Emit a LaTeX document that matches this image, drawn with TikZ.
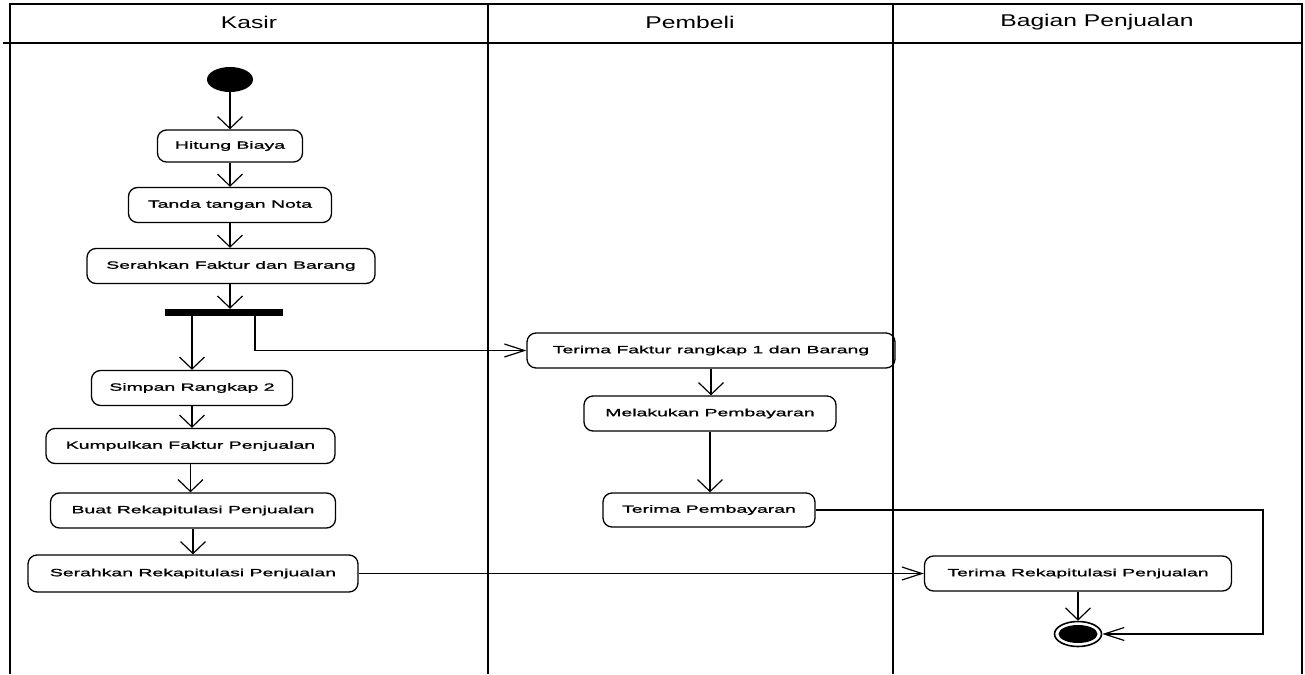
\documentclass[tikz,border=0pt]{standalone}
\usepackage{fontspec}
\setmainfont{Liberation Sans}
% wide faces for lane titles and activity labels
\newfontfamily\lanefont[FakeStretch=1.45]{Liberation Sans}
\newfontfamily\actfont[FakeStretch=1.85,FakeBold=1.2]{Liberation Sans}
\usetikzlibrary{arrows.meta,shapes.geometric}

\begin{document}
\begin{tikzpicture}[x=1pt,y=-1pt,
  frame/.style={line width=1.5pt},
  act/.style={draw, line width=1.3pt, rounded corners=9pt, minimum height=35pt,
    inner sep=0pt, font=\actfont\fontsize{10.5}{12}\selectfont},
  lane/.style={font=\lanefont\fontsize{17}{19}\selectfont},
  flowv/.style={line width=1.6pt, -{Straight Barb[length=12pt,width=25pt,line width=1.2pt]}},
  flowh/.style={line width=1.2pt, -{Straight Barb[length=20pt,width=13pt,line width=1.2pt]}},
]
\useasboundingbox (0,0) rectangle (1305,674);

% swimlane frame
\draw[frame] (10,674) -- (10,4) -- (1302,4) -- (1302,674);
\draw[frame] (3,43) -- (1302,43);
\draw[frame] (488,4) -- (488,674);
\draw[frame] (893,4) -- (893,674);

% lane titles
\node[lane] (hKasir) at (249,22) {Kasir};
\node[lane] (hPembeli) at (690,22) {Pembeli};
\node[lane] (hBagian) at (1097,22) {Bagian Penjualan};

% Kasir lane
\node[ellipse, fill=black, minimum width=46pt, minimum height=25pt, inner sep=0pt] (start) at (230,79.5) {};
\node[act, minimum width=145pt, minimum height=32pt] (hitung) at (230,146) {Hitung Biaya};
\node[act, minimum width=203pt] (tanda) at (230,205) {Tanda tangan Nota};
\node[act, minimum width=288pt] (serahF) at (231,266) {Serahkan Faktur dan Barang};
\node[fill=black, minimum width=118pt, minimum height=7pt, inner sep=0pt] (fork) at (224,312.5) {};
\node[act, minimum width=201pt] (simpan) at (192,388) {Simpan Rangkap 2};
\node[act, minimum width=289pt] (kumpul) at (190.5,446) {Kumpulkan Faktur Penjualan};
\node[act, minimum width=285pt] (buat) at (193,510.5) {Buat Rekapitulasi Penjualan};
\node[act, minimum width=330pt, minimum height=37pt] (serahR) at (193,573.5) {Serahkan Rekapitulasi Penjualan};

% Pembeli lane
\node[act, minimum width=368pt] (terimaF) at (711,350.5) {Terima Faktur rangkap 1 dan Barang};
\node[act, minimum width=252pt] (bayar) at (710,413.5) {Melakukan Pembayaran};
\node[act, minimum width=212pt, minimum height=34pt] (terimaB) at (709,510) {Terima Pembayaran};

% Bagian Penjualan lane
\node[act, minimum width=307pt] (terimaR) at (1078,573.5) {Terima Rekapitulasi Penjualan};
\node[ellipse, draw, line width=1.6pt, minimum width=47pt, minimum height=25pt, inner sep=0pt] (finish) at (1078,634) {};
\node[ellipse, fill=black, minimum width=39pt, minimum height=18pt, inner sep=0pt] (finishDot) at (finish) {};

% control flow
\coordinate (loop) at (1263,0);
\draw[flowv] (start) -- (hitung);
\draw[flowv] (hitung) -- (tanda);
\draw[flowv] (tanda.south) -- (tanda.south |- serahF.north);
\draw[flowv] (serahF.south -| tanda.south) -- (tanda.south |- fork.north);
\draw[flowv] (fork.south -| simpan.north) -- (simpan.north);
\draw[flowh] ([xshift=31pt]fork.south) |- (terimaF.west);
\draw[flowv] (simpan.south) -- (simpan.south |- kumpul.north);
\draw[flowv] (kumpul.south) -- (kumpul.south |- buat.north);
\draw[flowv] (buat.south) -- (buat.south |- serahR.north);
\draw[flowh] (serahR.east) -- (serahR.east -| terimaR.west);
\draw[flowv] (terimaF.south) -- (terimaF.south |- bayar.north);
\draw[flowv] (bayar.south) -- (bayar.south |- terimaB.north);
\draw[flowh] (terimaB.east) -- (terimaB.east -| loop) |- (finish.east);
\draw[flowv] (terimaR.south) -- (terimaR.south |- finish.north);
\end{tikzpicture}
\end{document}
